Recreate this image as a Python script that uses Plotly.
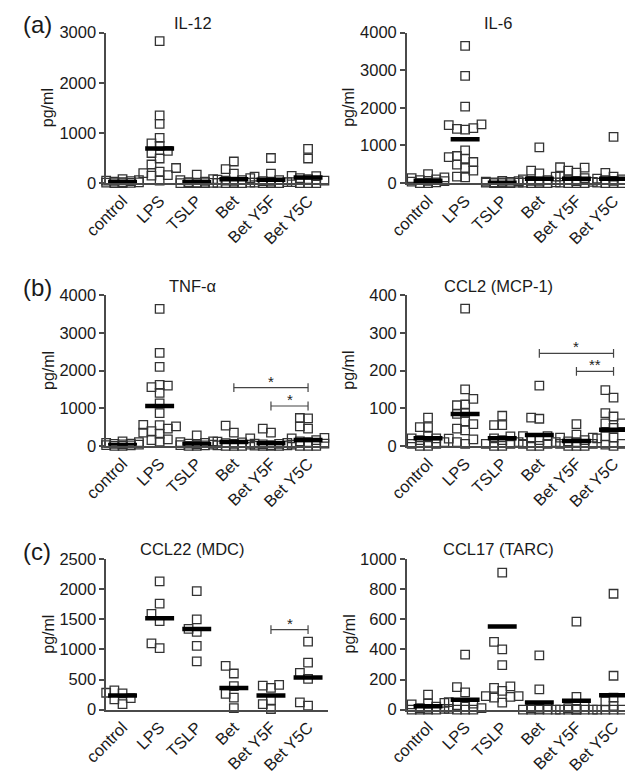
import plotly.graph_objects as go

W, H = 633, 778
OFF = 8  # the page body margin shifts the figure by 8 px; positions below are in screen pixels
FONT = "Arial, Liberation Sans, Helvetica, sans-serif"

categories = ["control", "LPS", "TSLP", "Bet", "Bet Y5F", "Bet Y5C"]

# ---------------- data (pg/ml) ----------------
il12_values = [
    [50, 10, 0, 30, 60, 20, 0, 40, 80, 15, 5],
    [2830, 1350, 1180, 900, 790, 740, 640, 600, 490, 370, 300, 230, 200, 160, 150, 50],
    [0, 0, 0, 0, 10, 20, 30, 80, 60, 170, 5],
    [430, 280, 190, 100, 70, 60, 50, 30, 10, 0, 0, 0, 5],
    [500, 190, 130, 60, 40, 20, 0, 0, 0, 10, 30],
    [680, 490, 145, 140, 100, 80, 50, 20, 0, 0, 0],
]
il12_means = [20, 690, 15, 78, 65, 110]

il6_values = [
    [130, 60, 150, 100, 240, 40, 0, 20, 50, 0, 80],
    [3650, 2850, 2030, 1560, 1540, 1460, 1440, 1420, 870, 720, 690, 650, 560, 490, 400, 330, 170, 150],
    [0, 0, 10, 20, 30, 40, 60, 50, 0, 10, 20],
    [950, 330, 260, 170, 100, 80, 60, 40, 20, 0, 0, 0, 10],
    [420, 410, 330, 280, 180, 130, 80, 50, 30, 10, 0, 0, 0],
    [1230, 270, 170, 150, 120, 100, 80, 60, 30, 10, 0, 0, 0],
]
il6_means = [60, 1166, 10, 112, 112, 115]

tnf_values = [
    [20, 40, 80, 100, 120, 60, 30, 10, 0, 0, 50],
    [3640, 2470, 2100, 1620, 1600, 1560, 1410, 1130, 870, 560, 550, 520, 460, 390, 350, 320, 170, 150, 110],
    [280, 120, 100, 80, 60, 40, 30, 20, 0, 0, 10],
    [540, 350, 200, 110, 90, 70, 50, 30, 10, 0, 0, 0],
    [460, 350, 80, 60, 50, 40, 20, 10, 0, 0, 0, 5],
    [740, 730, 520, 460, 210, 200, 150, 120, 100, 60, 30, 0, 0, 0],
]
tnf_means = [25, 1060, 50, 100, 70, 155]

ccl2_values = [
    [75, 50, 50, 25, 20, 20, 15, 10, 5, 5, 0, 0, 10],
    [365, 150, 125, 110, 108, 88, 85, 65, 58, 46, 41, 19, 17, 10, 5],
    [80, 55, 55, 25, 20, 15, 10, 5, 5, 0, 0],
    [160, 75, 72, 26, 26, 20, 15, 10, 5, 5, 0, 0],
    [58, 30, 22, 22, 15, 12, 10, 5, 5, 0, 0, 0],
    [148, 128, 87, 78, 60, 60, 48, 25, 22, 20, 5, 3, 0],
]
ccl2_means = [20, 85, 20, 29, 13, 43]

ccl22_values = [
    [320, 280, 270, 190, 170, 90],
    [2130, 1760, 1590, 1470, 1100, 1020],
    [1970, 1500, 1340, 1290, 1060, 800],
    [725, 600, 390, 260, 200, 25],
    [410, 400, 360, 155, 90, 10],
    [1130, 780, 610, 510, 120, 65],
]
ccl22_means = [236, 1516, 1339, 360, 236, 532]

ccl17_values = [
    [100, 45, 40, 35, 20, 10, 5, 5, 0, 0, 0, 0],
    [365, 150, 115, 50, 40, 30, 20, 10, 5, 0, 0, 0],
    [910, 450, 400, 295, 155, 145, 125, 90, 90, 85, 80, 47],
    [360, 135, 20, 10, 5, 0, 0, 0, 0, 0],
    [585, 85, 20, 10, 5, 0, 0, 0, 0, 0, 0],
    [770, 225, 80, 55, 25, 10, 0, 0, 0, 0],
]
ccl17_means = [22, 65, 553, 47, 58, 95]

# significance brackets: (from group, to group, height, label)
tnf_brackets = [(3, 5, 1550, "*"), (4, 5, 1060, "*")]
ccl2_brackets = [(3, 5, 246, "*"), (4, 5, 198, "**")]
ccl22_brackets = [(4, 5, 1330, "*")]

panels = [
    dict(title="IL-12", values=il12_values, means=il12_means, ymax=3000, dtick=1000,
         brackets=[], col=0, row=0, letter="(a)"),
    dict(title="IL-6", values=il6_values, means=il6_means, ymax=4000, dtick=1000,
         brackets=[], col=1, row=0, letter=None),
    dict(title="TNF-α", values=tnf_values, means=tnf_means, ymax=4000, dtick=1000,
         brackets=tnf_brackets, col=0, row=1, letter="(b)"),
    dict(title="CCL2 (MCP-1)", values=ccl2_values, means=ccl2_means, ymax=400, dtick=100,
         brackets=ccl2_brackets, col=1, row=1, letter=None),
    dict(title="CCL22 (MDC)", values=ccl22_values, means=ccl22_means, ymax=2500, dtick=500,
         brackets=ccl22_brackets, col=0, row=2, letter="(c)"),
    dict(title="CCL17 (TARC)", values=ccl17_values, means=ccl17_means, ymax=1000, dtick=200,
         brackets=[], col=1, row=2, letter=None),
]

# ---------------- layout geometry (screen pixels) ----------------
row_top = [24, 293, 563]
PH = 154
col_left = [86, 398]
col_right = [316, 641]
CAT_PX = 38.5
first_cat = [103, 420]          # screen x of the "control" column
title_x = [176, 493]

AX = "#4a4a4a"
MK = "#333333"
TXT = "#1a1a1a"


def px(sx):
    return (sx - OFF) / W


def py(sy):
    return 1 - (sy - OFF) / H


def swarm_offsets(vals, ymax, step_px=8.5, size_px=8.0, max_k=2):
    """Simple GraphPad-like horizontal arrangement of points (returns category units)."""
    ypx = [v / ymax * PH for v in vals]
    order = sorted(range(len(vals)), key=lambda i: vals[i])
    cands = [0]
    for k in range(1, max_k + 1):
        cands += [-k, k]
    placed = []
    offs = [0.0] * len(vals)
    for i in order:
        bestx, bests = 0, -1
        chosen = None
        for c in cands:
            x = c * step_px
            s = 1e9
            for (qx, qy) in placed:
                s = min(s, max(abs(qx - x), abs(qy - ypx[i])))
            if s >= size_px:
                chosen = x
                break
            if s > bests:
                bests, bestx = s, x
        if chosen is None:
            chosen = bestx
        placed.append((chosen, ypx[i]))
        offs[i] = chosen / CAT_PX
    return offs


fig = go.Figure()
layout = dict(
    width=W, height=H, margin=dict(l=0, r=0, t=0, b=0),
    paper_bgcolor="white", plot_bgcolor="white", showlegend=False,
    font=dict(family=FONT, color=TXT, size=16),
)
annotations = []

for n, p in enumerate(panels):
    k = "" if n == 0 else str(n + 1)
    xa, ya = "x" + k, "y" + k
    c, r = p["col"], p["row"]
    x0, x1 = px(col_left[c]), min(1.0, px(col_right[c]))
    y1 = py(row_top[r])
    y0 = py(row_top[r] + PH)
    lo = (col_left[c] - first_cat[c]) / CAT_PX
    hi = (col_right[c] - first_cat[c]) / CAT_PX
    ymax = p["ymax"]

    layout["xaxis" + k] = dict(
        domain=[x0, x1], anchor=ya, range=[lo, hi],
        tickmode="array", tickvals=list(range(len(categories))), ticktext=categories,
        tickangle=-45, ticks="", showline=True, linecolor=AX, linewidth=1.5,
        showgrid=False, zeroline=False, tickfont=dict(size=16.5, family=FONT, color=TXT),
    )
    layout["yaxis" + k] = dict(
        domain=[y0, y1], anchor=xa, range=[0, ymax],
        tickmode="linear", tick0=0, dtick=p["dtick"],
        ticks="outside", ticklen=5, tickwidth=1.5, tickcolor=AX,
        showline=True, linecolor=AX, linewidth=1.5,
        showgrid=False, zeroline=False, tickfont=dict(size=16.5, family=FONT, color=TXT),
    )

    for gi, vals in enumerate(p["values"]):
        offs = swarm_offsets(vals, ymax)
        fig.add_trace(go.Scatter(
            x=[gi + o for o in offs], y=vals, mode="markers", xaxis=xa, yaxis=ya,
            marker=dict(symbol="square-open", size=8.5, color=MK, line=dict(width=1.3, color=MK)),
            cliponaxis=False, hoverinfo="skip",
        ))
    for gi, m in enumerate(p["means"]):
        fig.add_trace(go.Scatter(
            x=[gi - 0.39, gi + 0.39], y=[m, m], mode="lines", xaxis=xa, yaxis=ya,
            line=dict(color="black", width=4.5), cliponaxis=False, hoverinfo="skip",
        ))
    cap = 4.5 / PH * ymax
    for (a, b, h, lab) in p["brackets"]:
        fig.add_trace(go.Scatter(
            x=[a, a, None, a, b, None, b, b], y=[h - cap, h + cap, None, h, h, None, h - cap, h + cap],
            mode="lines", xaxis=xa, yaxis=ya, line=dict(color="#444444", width=1.2),
            cliponaxis=False, hoverinfo="skip",
        ))
        annotations.append(dict(
            x=(a + b) / 2, y=h, xref=xa, yref=ya, text=lab, showarrow=False,
            yanchor="bottom", yshift=-4, font=dict(size=15, family=FONT, color="#222"),
        ))

    annotations.append(dict(
        x=px(title_x[c]), y=py(row_top[r] - 10), xref="paper", yref="paper",
        text=p["title"], showarrow=False, xanchor="center", yanchor="middle",
        font=dict(size=16.5, family=FONT, color=TXT),
    ))
    annotations.append(dict(
        x=px(col_left[c] - 60), y=py(row_top[r] + PH / 2), xref="paper", yref="paper",
        text="pg/ml", textangle=-90, showarrow=False, xanchor="center", yanchor="middle",
        font=dict(size=16, family=FONT, color=TXT),
    ))
    if p["letter"]:
        annotations.append(dict(
            x=px(0), y=py(row_top[r] - 8), xref="paper", yref="paper",
            text=p["letter"], showarrow=False, xanchor="left", yanchor="middle",
            xshift=-2, font=dict(size=24, family=FONT, color=TXT),
        ))

layout["annotations"] = annotations
fig.update_layout(**layout)
fig.write_html("out.html")
